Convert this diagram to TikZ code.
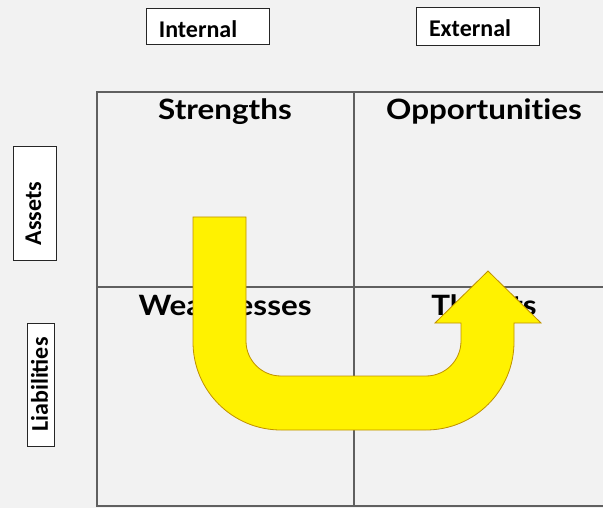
\documentclass[tikz,border=0pt]{standalone}
\usepackage{fontspec}
\setmainfont{Carlito}
\newfontfamily\titlefont[Ligatures=NoCommon, FakeStretch=1.12]{Lato}
\usetikzlibrary{positioning}

\definecolor{bggray}{RGB}{242,242,242}
\definecolor{gridgray}{RGB}{96,96,96}
\definecolor{arrowedge}{RGB}{191,144,0}

\begin{document}
\begin{tikzpicture}[x=1pt, y=-1pt,
        gridline/.style={draw=gridgray, line width=1.5pt},
        tagbox/.style={draw=black!85, line width=1pt, fill=white, inner sep=0pt},
        tagtext/.style={font=\fontsize{24}{24}\selectfont\bfseries, inner sep=0pt},
        quadtitle/.style={font=\titlefont\fontsize{28}{28}\selectfont\bfseries, anchor=base},
        bigarrow/.style={fill=yellow, draw=arrowedge, line width=0.8pt}]

    % background and size
    \fill[bggray] (0,0) rectangle (603,508);
    \useasboundingbox (0,0) rectangle (603,508);

    % the four quadrants
    \draw[gridline] (610,92) -- (97,92) -- (97,506) -- (610,506);
    \draw[gridline] (354,92) -- (354,506);
    \draw[gridline] (97,287) -- (610,287);

    \node[quadtitle] (strengths) at (225,120) {Strengths};
    \node[quadtitle] (opportunities) at (484,120) {Opportunities};
    \node[quadtitle] (weaknesses) at (225,315) {Weaknesses};
    \node[quadtitle] (threats) at (484,315) {Threats};

    % axis tags
    \node[tagbox, minimum width=123pt, minimum height=36pt] (internal) at (208,27) {};
    \node[tagtext] at ([xshift=-10pt, yshift=-2pt]internal.center) {Internal};
    \node[tagbox, minimum width=123pt, minimum height=38pt] (external) at (478,27) {};
    \node[tagtext] at ([xshift=-8pt, yshift=-1pt]external.center) {External};
    \node[tagbox, minimum width=43pt, minimum height=113pt] (assets) at (34.5,203.5) {};
    \node[tagtext, rotate=90] at ([yshift=-10pt, xshift=-1pt]assets.center) {Assets};
    \node[tagbox, minimum width=27pt, minimum height=123pt] (liabilities) at (40.5,384.5) {};
    \node[tagtext, rotate=90] at ([xshift=-1pt]liabilities.center) {Liabilities};

    % the U-turn arrow
    \draw[bigarrow] (193,217) -- (246,217) -- (246,341)
        arc[start angle=180, end angle=90, radius=35] -- (426,376)
        arc[start angle=90, end angle=0, radius=35] -- (461,323)
        -- (435,323) -- (488,271) -- (541,323) -- (514,323) -- (514,342)
        arc[start angle=0, end angle=90, radius=88] -- (281,430)
        arc[start angle=90, end angle=180, radius=88] -- cycle;
\end{tikzpicture}
\end{document}
